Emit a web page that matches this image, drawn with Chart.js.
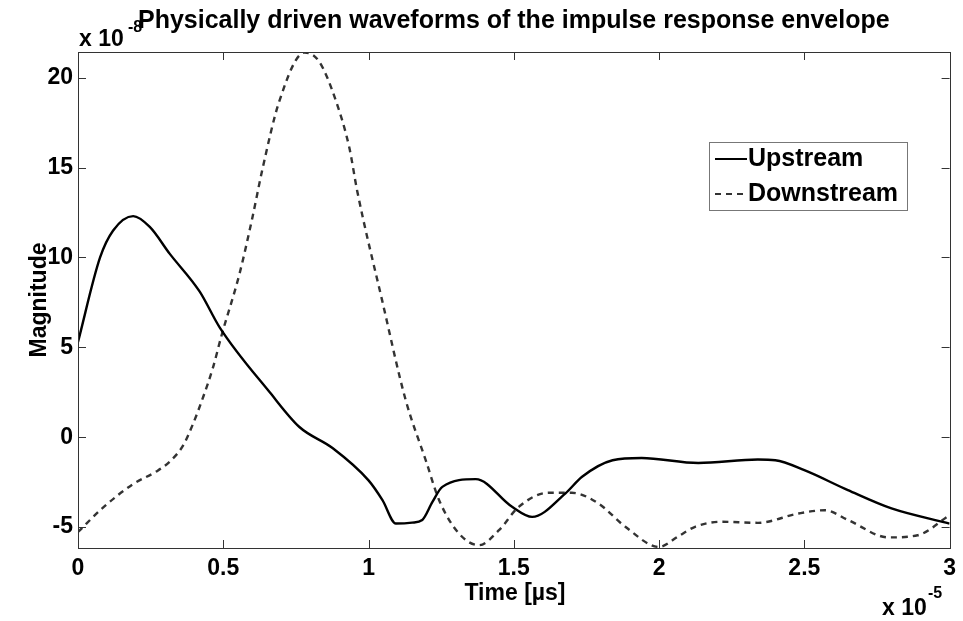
<!DOCTYPE html>
<html>
<head>
<meta charset="utf-8">
<script src="https://cdn.jsdelivr.net/npm/chart.js@4/dist/chart.umd.min.js"></script>
<style>
  html, body { margin: 0; padding: 0; background: #fff; }
  #wrap { width: 963px; height: 621px; }
</style>
</head>
<body>
<div id="wrap"><canvas id="chart-impulse"></canvas></div>
<script>
// time in units of 1e-5, magnitude in units of 1e-8
const upTime = [0, 0.076, 0.121, 0.19, 0.247, 0.316, 0.419, 0.488, 0.66, 0.762, 0.876, 1.0, 1.048, 1.094, 1.15, 1.185, 1.22, 1.254, 1.369, 1.494, 1.563, 1.678, 1.735, 1.84, 1.94, 2.135, 2.34, 2.4, 2.5, 2.65, 2.8, 3.0];
const upMag = [5.3, 10.0, 11.5, 12.3, 11.7, 10.2, 8.1, 6.1, 2.5, 0.57, -0.6, -2.4, -3.5, -4.8, -4.75, -4.6, -3.6, -2.76, -2.33, -3.87, -4.43, -3.12, -2.2, -1.28, -1.15, -1.43, -1.24, -1.28, -1.83, -2.94, -3.96, -4.8];

const downTime = [0, 0.087, 0.19, 0.27, 0.316, 0.362, 0.396, 0.43, 0.465, 0.493, 0.556, 0.6, 0.636, 0.693, 0.78, 0.83, 0.888, 0.934, 0.961, 1.047, 1.128, 1.197, 1.243, 1.311, 1.38, 1.449, 1.517, 1.62, 1.7, 1.79, 1.884, 2.0, 2.067, 2.124, 2.215, 2.34, 2.48, 2.57, 2.65, 2.79, 2.89, 3.0];
const downMag = [-5.27, -3.9, -2.6, -1.9, -1.35, -0.45, 0.75, 2.2, 3.9, 5.6, 9.1, 12.2, 15.0, 18.7, 21.4, 20.9, 18.7, 16.1, 13.7, 7.6, 2.06, -1.28, -3.5, -5.35, -6.0, -5.17, -3.87, -3.09, -3.09, -3.67, -4.98, -6.1, -5.5, -4.98, -4.7, -4.76, -4.24, -4.06, -4.6, -5.57, -5.45, -4.33];

const xTicks = [0, 0.5, 1, 1.5, 2, 2.5, 3];
const yTicks = [-5, 0, 5, 10, 15, 20];

const FONT = '"Liberation Sans", Arial, sans-serif';
const AXIS = '#333';

const toPoints = (xs, ys) => xs.map((x, i) => ({ x: x, y: ys[i] }));

// box, inside ticks, legend and axis labels, drawn the MATLAB way
const matlabAxes = {
  id: 'matlabAxes',
  beforeDraw(chart) {
    const ctx = chart.ctx;
    ctx.save();
    ctx.fillStyle = '#fff';
    ctx.fillRect(0, 0, chart.width, chart.height);
    ctx.fillStyle = '#000';
    ctx.font = 'bold 23px ' + FONT;
    ctx.textBaseline = 'alphabetic';
    ctx.textAlign = 'left';
    ctx.fillText('x 10', 79, 46);
    ctx.fillText('x 10', 882, 615);
    ctx.font = 'bold 16px ' + FONT;
    ctx.fillText('-8', 128, 32);
    ctx.fillText('-5', 928, 598);

    ctx.font = 'bold 23px ' + FONT;
    ctx.textAlign = 'center';
    ctx.textBaseline = 'middle';
    ctx.fillText('Time [\u00b5s]', 515, 594);
    ctx.translate(40, 300);
    ctx.rotate(-Math.PI / 2);
    ctx.fillText('Magnitude', 0, 0);
    ctx.restore();
  },
  afterDraw(chart) {
    const ctx = chart.ctx;
    const a = chart.chartArea;
    const xs = chart.scales.x, ys = chart.scales.y;
    const tl = 8;
    ctx.save();
    ctx.strokeStyle = AXIS;
    ctx.lineWidth = 1;
    ctx.beginPath();
    xTicks.forEach(v => {
      const px = Math.round(xs.getPixelForValue(v)) + 0.5;
      ctx.moveTo(px, a.bottom); ctx.lineTo(px, a.bottom - tl);
      ctx.moveTo(px, a.top); ctx.lineTo(px, a.top + tl);
    });
    yTicks.forEach(v => {
      const py = Math.round(ys.getPixelForValue(v)) + 0.5;
      ctx.moveTo(a.left, py); ctx.lineTo(a.left + tl, py);
      ctx.moveTo(a.right, py); ctx.lineTo(a.right - tl, py);
    });
    ctx.stroke();
    ctx.strokeRect(Math.round(a.left) + 0.5, Math.round(a.top) + 0.5,
      Math.round(a.right - a.left), Math.round(a.bottom - a.top));

    // legend
    const lx = 709, ly = 142, lw = 198, lh = 68;
    ctx.fillStyle = '#fff';
    ctx.fillRect(lx, ly, lw, lh);
    ctx.strokeStyle = '#777';
    ctx.strokeRect(lx + 0.5, ly + 0.5, lw, lh);
    ctx.font = 'bold 25px ' + FONT;
    ctx.textBaseline = 'middle';
    ctx.textAlign = 'left';
    chart.data.datasets.forEach((ds, i) => {
      const cy = ly + 17 + i * 35;
      ctx.strokeStyle = ds.borderColor;
      ctx.lineWidth = 2;
      ctx.setLineDash(ds.borderDash || []);
      ctx.beginPath();
      ctx.moveTo(lx + 6, cy); ctx.lineTo(lx + 38, cy);
      ctx.stroke();
      ctx.setLineDash([]);
      ctx.fillStyle = '#000';
      ctx.fillText(ds.label, lx + 39, cy);
    });
    ctx.restore();
  }
};

const data = {
  datasets: [
    {
      label: 'Upstream',
      data: toPoints(upTime, upMag),
      borderColor: '#000',
      borderWidth: 2.4,
      pointRadius: 0,
      cubicInterpolationMode: 'monotone'
    },
    {
      label: 'Downstream',
      data: toPoints(downTime, downMag),
      borderColor: '#333',
      borderWidth: 2.4,
      borderDash: [6, 5],
      pointRadius: 0,
      cubicInterpolationMode: 'monotone'
    }
  ]
};

const configuration = {
  type: 'line',
  data: data,
  options: {
    responsive: false,
    animation: false,
    devicePixelRatio: 1,
    layout: { padding: { right: 10, left: 0, top: 0, bottom: 0 } },
    plugins: {
      legend: { display: false },
      tooltip: { enabled: false },
      title: {
        display: true,
        fullSize: false,
        text: 'Physically driven waveforms of the impulse response envelope',
        color: '#000',
        font: { family: FONT, size: 25, weight: 'bold', lineHeight: 1.2 },
        padding: { top: 6, bottom: 16 }
      }
    },
    scales: {
      x: {
        type: 'linear',
        min: 0,
        max: 3,
        afterBuildTicks: (scale) => { scale.ticks = xTicks.map(v => ({ value: v })); },
        afterFit: (scale) => { scale.height = 73; },
        grid: { display: false, drawTicks: false },
        border: { display: false },
        ticks: {
          color: '#000',
          padding: 7,
          maxRotation: 0,
          font: { family: FONT, size: 23, weight: 'bold' },
          callback: (v) => String(v)
        }
      },
      y: {
        type: 'linear',
        min: -6.16,
        max: 21.43,
        afterBuildTicks: (scale) => { scale.ticks = yTicks.map(v => ({ value: v })); },
        afterFit: (scale) => { scale.width = 78; },
        grid: { display: false, drawTicks: false },
        border: { display: false },
        ticks: {
          color: '#000',
          padding: 5,
          font: { family: FONT, size: 23, weight: 'bold' },
          callback: (v) => String(v)
        }
      }
    }
  },
  plugins: [matlabAxes]
};

const canvas = document.getElementById('chart-impulse');
canvas.width = 963;
canvas.height = 621;
new Chart(canvas, configuration);
</script>
</body>
</html>
